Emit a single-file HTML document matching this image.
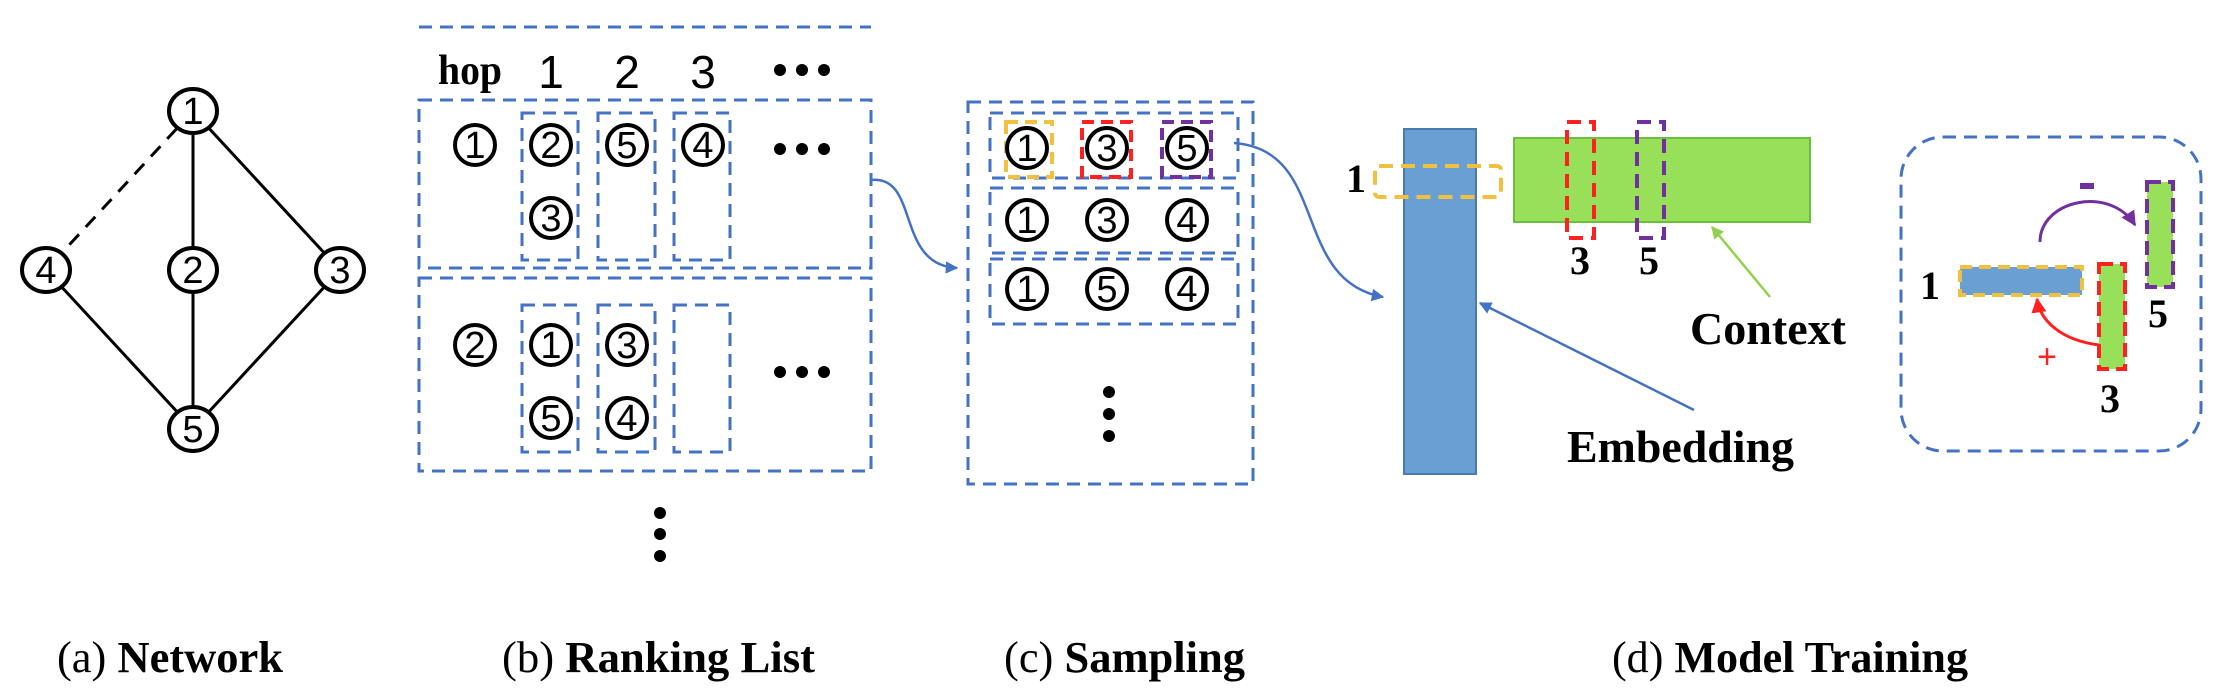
<!DOCTYPE html>
<html><head><meta charset="utf-8"><style>html,body{margin:0;padding:0;background:#fff}svg{display:block}</style></head>
<body>
<svg width="2218" height="688" viewBox="0 0 2218 688" xmlns="http://www.w3.org/2000/svg">
<defs>
<marker id="ab" viewBox="0 0 10 10" refX="9" refY="5" markerWidth="5" markerHeight="5" orient="auto"><path d="M0,0 L10,5 L0,10 z" fill="#4472c4"/></marker>
<marker id="ag" viewBox="0 0 10 10" refX="9" refY="5" markerWidth="5" markerHeight="5" orient="auto"><path d="M0,0 L10,5 L0,10 z" fill="#92d050"/></marker>
<marker id="ar" viewBox="0 0 10 10" refX="9" refY="5" markerWidth="5" markerHeight="5" orient="auto"><path d="M0,0 L10,5 L0,10 z" fill="#ff2020"/></marker>
<marker id="ap" viewBox="0 0 10 10" refX="9" refY="5" markerWidth="5" markerHeight="5" orient="auto"><path d="M0,0 L10,5 L0,10 z" fill="#7030a0"/></marker>
</defs>
<style>
.n{fill:#fff;stroke:#000;stroke-width:4}
.d{font-family:"Liberation Sans",sans-serif;font-size:38px;text-anchor:middle;dominant-baseline:central}
.bd{fill:none;stroke:#4472c4;stroke-width:3;stroke-dasharray:13 8}
.s{font-family:"Liberation Serif",serif;font-weight:bold}
</style>
<!-- (a) network -->
<g stroke="#000" stroke-width="3">
<line x1="193" y1="111" x2="193" y2="429"/>
<line x1="193" y1="111" x2="340" y2="270"/>
<line x1="46" y1="270" x2="193" y2="429"/>
<line x1="340" y1="270" x2="193" y2="429"/>
<line x1="193" y1="111" x2="46" y2="270" stroke-dasharray="14 10"/>
</g>
<g>
<ellipse class="n" cx="193" cy="111" rx="24" ry="22"/><text class="d" x="193" y="112">1</text>
<ellipse class="n" cx="46" cy="270" rx="24" ry="22"/><text class="d" x="46" y="271">4</text>
<ellipse class="n" cx="193" cy="270" rx="24" ry="22"/><text class="d" x="193" y="271">2</text>
<ellipse class="n" cx="340" cy="270" rx="24" ry="22"/><text class="d" x="340" y="271">3</text>
<ellipse class="n" cx="193" cy="429" rx="24" ry="22"/><text class="d" x="193" y="430">5</text>
</g>
<!-- (b) ranking list -->
<line x1="419" y1="27" x2="871" y2="27" class="bd"/>
<text x="438" y="84" class="s" font-size="42" textLength="64" lengthAdjust="spacingAndGlyphs">hop</text>
<g font-family="Liberation Sans,sans-serif" font-size="46" text-anchor="middle">
<text x="551" y="88">1</text><text x="627" y="88">2</text><text x="703" y="88">3</text></g>
<g fill="#000"><circle cx="780" cy="70" r="6"/><circle cx="802" cy="70" r="6"/><circle cx="824" cy="70" r="6"/>
<circle cx="780" cy="149" r="6"/><circle cx="802" cy="149" r="6"/><circle cx="824" cy="149" r="6"/>
<circle cx="780" cy="372" r="6"/><circle cx="802" cy="372" r="6"/><circle cx="824" cy="372" r="6"/>
<circle cx="660" cy="513" r="6"/><circle cx="660" cy="534" r="6"/><circle cx="660" cy="556" r="6"/></g>
<rect x="419" y="100" width="452" height="168" class="bd"/>
<rect x="419" y="278" width="452" height="193" class="bd"/>
<rect x="522" y="113" width="56" height="147" class="bd"/>
<rect x="598" y="113" width="57" height="147" class="bd"/>
<rect x="674" y="113" width="56" height="147" class="bd"/>
<rect x="522" y="305" width="56" height="147" class="bd"/>
<rect x="598" y="305" width="57" height="147" class="bd"/>
<rect x="674" y="305" width="56" height="147" class="bd"/>
<g>
<ellipse class="n" cx="475" cy="145" rx="20" ry="20"/><text class="d" x="475" y="146">1</text>
<ellipse class="n" cx="551" cy="145" rx="20" ry="20"/><text class="d" x="551" y="146">2</text>
<ellipse class="n" cx="551" cy="218" rx="20" ry="20"/><text class="d" x="551" y="219">3</text>
<ellipse class="n" cx="627" cy="145" rx="20" ry="20"/><text class="d" x="627" y="146">5</text>
<ellipse class="n" cx="703" cy="145" rx="20" ry="20"/><text class="d" x="703" y="146">4</text>
<ellipse class="n" cx="475" cy="345" rx="20" ry="20"/><text class="d" x="475" y="346">2</text>
<ellipse class="n" cx="551" cy="345" rx="20" ry="20"/><text class="d" x="551" y="346">1</text>
<ellipse class="n" cx="551" cy="418" rx="20" ry="20"/><text class="d" x="551" y="419">5</text>
<ellipse class="n" cx="627" cy="345" rx="20" ry="20"/><text class="d" x="627" y="346">3</text>
<ellipse class="n" cx="627" cy="418" rx="20" ry="20"/><text class="d" x="627" y="419">4</text>
</g>
<path d="M871,180 C920,175 895,265 957,268" fill="none" stroke="#4472c4" stroke-width="2.5" marker-end="url(#ab)"/>
<!-- (c) sampling -->
<rect x="968" y="102" width="285" height="382" class="bd"/>
<rect x="990" y="113" width="248" height="65" class="bd"/>
<rect x="990" y="188" width="248" height="65" class="bd"/>
<rect x="990" y="259" width="248" height="65" class="bd"/>
<g fill="none" stroke-width="4" stroke-dasharray="12 7">
<rect x="1006" y="122" width="46" height="55" stroke="#f0c040"/>
<rect x="1082" y="122" width="49" height="55" stroke="#ff2020"/>
<rect x="1162" y="122" width="49" height="55" stroke="#7030a0"/>
</g>
<g>
<ellipse class="n" cx="1027" cy="148" rx="20" ry="20"/><text class="d" x="1027" y="149">1</text>
<ellipse class="n" cx="1107" cy="148" rx="20" ry="20"/><text class="d" x="1107" y="149">3</text>
<ellipse class="n" cx="1187" cy="148" rx="20" ry="20"/><text class="d" x="1187" y="149">5</text>
<ellipse class="n" cx="1027" cy="220" rx="20" ry="20"/><text class="d" x="1027" y="221">1</text>
<ellipse class="n" cx="1107" cy="220" rx="20" ry="20"/><text class="d" x="1107" y="221">3</text>
<ellipse class="n" cx="1187" cy="220" rx="20" ry="20"/><text class="d" x="1187" y="221">4</text>
<ellipse class="n" cx="1027" cy="289" rx="20" ry="20"/><text class="d" x="1027" y="290">1</text>
<ellipse class="n" cx="1107" cy="289" rx="20" ry="20"/><text class="d" x="1107" y="290">5</text>
<ellipse class="n" cx="1187" cy="289" rx="20" ry="20"/><text class="d" x="1187" y="290">4</text>
</g>
<g fill="#000"><circle cx="1109" cy="392" r="6"/><circle cx="1109" cy="414" r="6"/><circle cx="1109" cy="436" r="6"/></g>
<path d="M1234,143 C1330,150 1290,280 1383,297" fill="none" stroke="#4472c4" stroke-width="2.5" marker-end="url(#ab)"/>
<!-- (d) model training -->
<rect x="1404" y="129" width="72" height="345" fill="#6a9fd4" stroke="#4a7ab0" stroke-width="2"/>
<rect x="1514" y="138" width="296" height="84" fill="#99e05a" stroke="#6cbf3c" stroke-width="2"/>
<rect x="1375" y="166" width="126" height="31" rx="4" fill="none" stroke="#f0c040" stroke-width="4" stroke-dasharray="14 8"/>
<text x="1356" y="192" class="s" font-size="40" text-anchor="middle">1</text>
<rect x="1567" y="122" width="27" height="116" fill="none" stroke="#ff2020" stroke-width="4" stroke-dasharray="14 8"/>
<rect x="1637" y="122" width="27" height="116" fill="none" stroke="#7030a0" stroke-width="4" stroke-dasharray="14 8"/>
<text x="1580" y="274" class="s" font-size="40" text-anchor="middle">3</text>
<text x="1649" y="274" class="s" font-size="40" text-anchor="middle">5</text>
<line x1="1770" y1="297" x2="1712" y2="227" stroke="#92d050" stroke-width="2.5" marker-end="url(#ag)"/>
<text x="1690" y="344" class="s" font-size="46" textLength="156" lengthAdjust="spacingAndGlyphs">Context</text>
<line x1="1694" y1="410" x2="1480" y2="303" stroke="#4472c4" stroke-width="2.5" marker-end="url(#ab)"/>
<text x="1567" y="462" class="s" font-size="46" textLength="227" lengthAdjust="spacingAndGlyphs">Embedding</text>
<rect x="1901" y="137" width="300" height="314" rx="42" fill="none" stroke="#4472c4" stroke-width="3" stroke-dasharray="13 8"/>
<rect x="1960" y="267" width="122" height="28" fill="#6a9fd4" stroke="#f0c040" stroke-width="4" stroke-dasharray="12 7"/>
<text x="1930" y="299" class="s" font-size="40" text-anchor="middle">1</text>
<rect x="2099" y="264" width="26" height="105" fill="#99e05a" stroke="#ff2020" stroke-width="4" stroke-dasharray="14 7"/>
<text x="2110" y="412" class="s" font-size="40" text-anchor="middle">3</text>
<rect x="2147" y="182" width="26" height="105" fill="#99e05a" stroke="#7030a0" stroke-width="4" stroke-dasharray="14 7"/>
<text x="2158" y="327" class="s" font-size="40" text-anchor="middle">5</text>
<rect x="2080" y="183" width="14" height="6" fill="#7030a0"/>
<path d="M2040,242 C2040,200 2110,185 2135,225" fill="none" stroke="#7030a0" stroke-width="3" marker-end="url(#ap)"/>
<path d="M2099,345 C2060,340 2040,320 2037,299" fill="none" stroke="#ff2020" stroke-width="3" marker-end="url(#ar)"/>
<text x="2047" y="368" font-family="Liberation Sans,sans-serif" font-size="34" fill="#ff2020" text-anchor="middle">+</text>
<!-- captions -->
<g font-family="Liberation Serif,serif" font-size="44">
<text x="57" y="672" textLength="226" lengthAdjust="spacingAndGlyphs">(a) <tspan font-weight="bold">Network</tspan></text>
<text x="502" y="672" textLength="313" lengthAdjust="spacingAndGlyphs">(b) <tspan font-weight="bold">Ranking List</tspan></text>
<text x="1004" y="672" textLength="241" lengthAdjust="spacingAndGlyphs">(c) <tspan font-weight="bold">Sampling</tspan></text>
<text x="1612" y="672" textLength="356" lengthAdjust="spacingAndGlyphs">(d) <tspan font-weight="bold">Model Training</tspan></text>
</g>
</svg>
</body></html>
